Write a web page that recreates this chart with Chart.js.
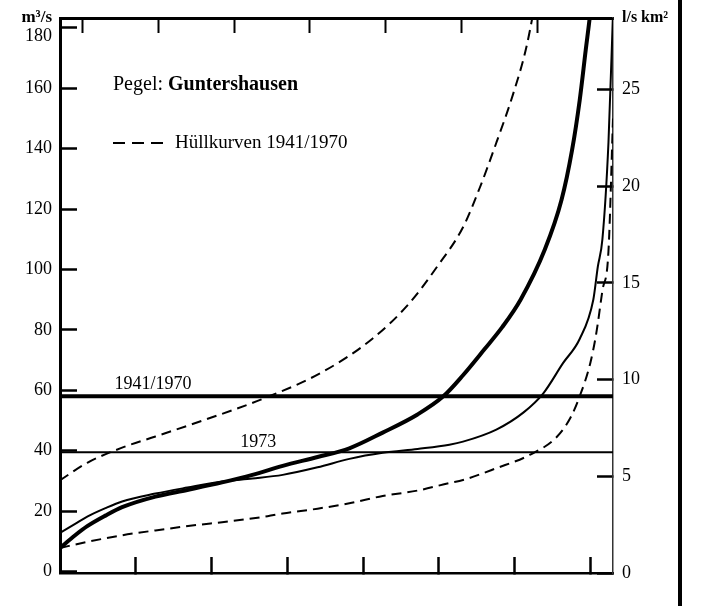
<!DOCTYPE html>
<html>
<head>
<meta charset="utf-8">
<script src="https://cdn.jsdelivr.net/npm/chart.js@4.4.1/dist/chart.umd.min.js"></script>
<style>
  html, body { margin: 0; padding: 0; background: #fff; }
  #wrap { position: relative; width: 701px; height: 606px; overflow: hidden; }
  #frame { position: absolute; left: 678px; top: 0; width: 4px; height: 606px; background: #000; }
</style>
</head>
<body>
<div id="wrap">
  <canvas id="flowChart" width="701" height="606"></canvas>
  <div id="frame"></div>
</div>
<script>
// Abflussdauerlinien, Pegel Guntershausen (Q in m³/s, x = Tage im Jahr)

// mittlere Dauerlinie 1941/1970
const meanDays = [0, 10, 18, 30, 41, 63, 84, 107, 127, 147, 170, 191, 213, 236, 253, 266, 280, 292, 304, 320, 331, 338, 343, 347, 350, 353];
const meanFlow = [7.8, 12, 15, 18.5, 21.3, 24.8, 27, 29.5, 32, 35, 37.9, 40.8, 46, 52, 58, 65, 73.5, 81, 90, 106.6, 123, 139.6, 156, 172.7, 185, 200];

// Dauerlinie 1973
const year73Days = [0, 10, 18, 30, 41, 63, 84, 107, 127, 147, 170, 191, 213, 236, 257, 266, 288, 306, 319, 332, 343, 352, 355, 358, 362, 365];
const year73Flow = [12.8, 15.8, 18.2, 21, 23.2, 25.8, 27.8, 29.8, 30.8, 32, 34.5, 37.3, 39.3, 40.6, 42, 43, 47, 52.7, 59, 69, 77, 90, 101, 110, 142, 185];

// Hüllkurven 1941/1970
const upperDays = [0, 18, 41, 63, 96, 133, 173, 206, 230, 249, 266, 277, 288, 299, 308, 316];
const upperFlow = [30.2, 36, 41, 44.7, 50.3, 57, 66, 77, 88.5, 101, 114, 127, 142, 158, 174, 195];
const lowerDays = [0, 18, 41, 63, 92, 107, 137, 147, 170, 191, 213, 236, 257, 266, 288, 310, 328, 337, 343, 350, 354, 358, 362, 365];
const lowerFlow = [7.8, 9.8, 12, 13.6, 15.5, 16.3, 18.3, 19.2, 20.8, 22.6, 25, 26.8, 29.3, 30.3, 34.2, 38.6, 44.6, 51, 58, 69, 79, 93, 106, 150];

// Mittelwasser
const meanQ4170 = 58;
const meanQ1973 = 39.5;

// Achsen
const leftTicks = [0, 20, 40, 60, 80, 100, 120, 140, 160, 180];
const rightTicks = [0, 5, 10, 15, 20, 25];
const bottomTickDays = [50, 100, 150, 200, 250, 300, 350];
const topTickDays = [15, 65, 115, 165, 215, 265, 315];

const serif = '"Liberation Serif", "DejaVu Serif", serif';
const leftTop = leftTicks[leftTicks.length - 1];

const toPoints = (xs, ys) => xs.map((x, i) => ({ x: x, y: ys[i] }));
const setTicks = (values) => (scale) => { scale.ticks = values.map(v => ({ value: v })); };

// fixed axis sizes, no extra room for half labels at the ends
const fixSize = (w, h) => (scale) => {
    if (w !== null) scale.width = w;
    if (h !== null) scale.height = h;
    scale.paddingTop = 0;
    scale.paddingBottom = 0;
    scale.paddingLeft = 0;
    scale.paddingRight = 0;
};

const annotations = {
    id: 'annotations',
    afterDatasetsDraw(chart) {
        const { ctx, chartArea, scales } = chart;
        const x = scales.x;
        const y = scales.y;
        ctx.save();
        ctx.fillStyle = '#000';
        ctx.strokeStyle = '#000';
        ctx.textBaseline = 'alphabetic';

        // labels above the mean-flow lines
        ctx.font = '18px ' + serif;
        ctx.fillText('1941/1970', x.getPixelForValue(36), y.getPixelForValue(meanQ4170) - 7);
        ctx.fillText('1973', x.getPixelForValue(119), y.getPixelForValue(meanQ1973) - 5);

        // top tick label sits a little lower, below the unit
        ctx.textAlign = 'right';
        ctx.textBaseline = 'middle';
        ctx.fillText(String(leftTop), chartArea.left - 8, y.getPixelForValue(leftTop) + 8);
        ctx.textAlign = 'left';
        ctx.textBaseline = 'alphabetic';

        // gauge name
        const lx = chartArea.left + 53;
        ctx.font = '20px ' + serif;
        ctx.fillText('Pegel: ', lx, chartArea.top + 72);
        const w = ctx.measureText('Pegel: ').width;
        ctx.font = 'bold 20px ' + serif;
        ctx.fillText('Guntershausen', lx + w, chartArea.top + 72);

        // envelope key
        ctx.lineWidth = 2;
        ctx.setLineDash([12, 7]);
        ctx.beginPath();
        ctx.moveTo(lx, chartArea.top + 125);
        ctx.lineTo(lx + 50, chartArea.top + 125);
        ctx.stroke();
        ctx.setLineDash([]);
        ctx.font = '19px ' + serif;
        ctx.fillText('Hüllkurven 1941/1970', lx + 62, chartArea.top + 130);

        // axis units
        ctx.font = 'bold 17px ' + serif;
        ctx.textAlign = 'right';
        ctx.fillText('m³/s', chartArea.left - 8, chartArea.top + 4);
        ctx.font = 'bold 16px ' + serif;
        ctx.textAlign = 'left';
        ctx.fillText('l/s km²', chartArea.right + 9, chartArea.top + 4);
        ctx.restore();
    }
};

const lineStyle = (width, dash) => ({
    borderColor: '#000',
    borderWidth: width,
    borderDash: dash || [],
    pointRadius: 0,
    fill: false,
    cubicInterpolationMode: 'monotone'
});

new Chart(document.getElementById('flowChart'), {
    type: 'line',
    data: {
        datasets: [
            { label: '1941/1970', data: toPoints(meanDays, meanFlow), ...lineStyle(4) },
            { label: '1973', data: toPoints(year73Days, year73Flow), ...lineStyle(2) },
            { label: 'Hüllkurve oben', data: toPoints(upperDays, upperFlow), ...lineStyle(2, [10, 6]) },
            { label: 'Hüllkurve unten', data: toPoints(lowerDays, lowerFlow), ...lineStyle(2, [10, 6]) },
            { label: 'MQ 1941/1970', data: toPoints([0, 365], [meanQ4170, meanQ4170]), ...lineStyle(4) },
            { label: 'MQ 1973', data: toPoints([0, 365], [meanQ1973, meanQ1973]), ...lineStyle(2) }
        ]
    },
    options: {
        responsive: false,
        animation: false,
        layout: { padding: 0 },
        plugins: {
            legend: { display: false },
            tooltip: { enabled: false }
        },
        scales: {
            x: {
                type: 'linear',
                position: 'bottom',
                min: 0,
                max: 365,
                afterBuildTicks: setTicks(bottomTickDays),
                afterFit: fixSize(null, 33),
                ticks: { display: false },
                grid: { drawOnChartArea: false, drawTicks: true, tickLength: -16, tickWidth: 2.5, tickColor: '#000' },
                border: { display: true, color: '#000', width: 2.5 }
            },
            xTop: {
                type: 'linear',
                position: 'top',
                min: 0,
                max: 365,
                afterBuildTicks: setTicks(topTickDays),
                afterFit: fixSize(null, 18),
                ticks: { display: false },
                grid: { drawOnChartArea: false, drawTicks: true, tickLength: -15, tickWidth: 2, tickColor: '#000' },
                border: { display: true, color: '#000', width: 3 }
            },
            y: {
                type: 'linear',
                position: 'left',
                min: -0.5,
                max: 183.3,
                afterBuildTicks: setTicks(leftTicks),
                afterFit: fixSize(60, null),
                ticks: {
                    color: '#000',
                    padding: 25,
                    font: { family: serif, size: 18 },
                    callback: (v) => (v === leftTop ? '' : v)
                },
                grid: { drawOnChartArea: false, drawTicks: true, tickLength: -17, tickWidth: 2.5, tickColor: '#000' },
                border: { display: true, color: '#000', width: 3 }
            },
            yRight: {
                type: 'linear',
                position: 'right',
                min: 0,
                max: 28.7,
                afterBuildTicks: setTicks(rightTicks),
                afterFit: fixSize(88, null),
                ticks: { color: '#000', padding: 25, font: { family: serif, size: 18 } },
                grid: { drawOnChartArea: false, drawTicks: true, tickLength: -16, tickWidth: 2.5, tickColor: '#000' },
                border: { display: true, color: '#333', width: 1.5 }
            }
        }
    },
    plugins: [annotations]
});
</script>
</body>
</html>
